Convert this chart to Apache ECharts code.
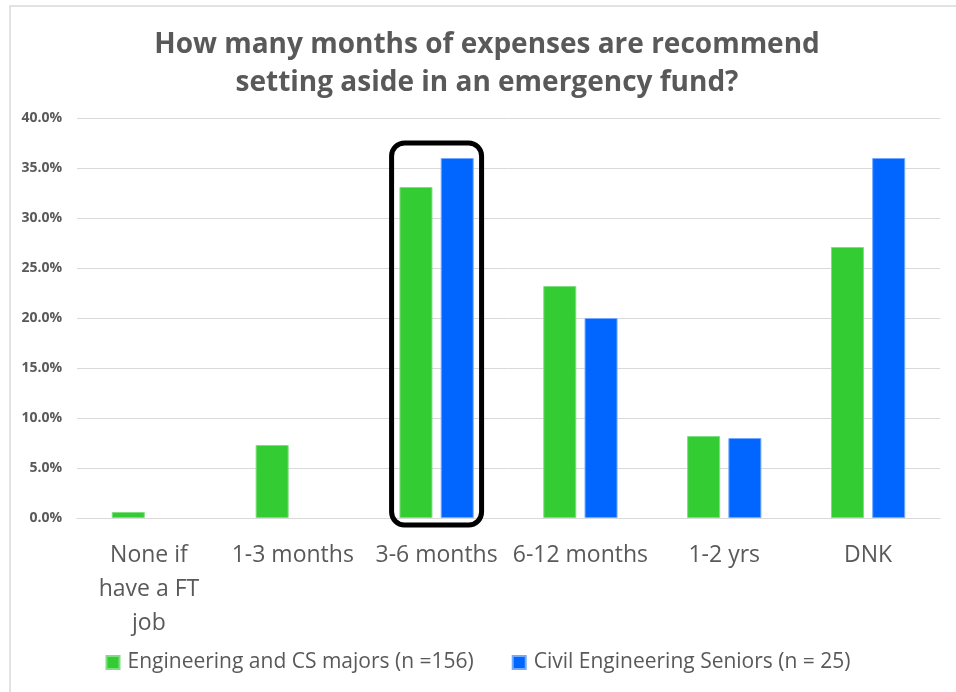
<!DOCTYPE html>
<html>
<head>
<meta charset="utf-8">
<script src="https://cdn.jsdelivr.net/npm/echarts@6/dist/echarts.min.js"></script>
<style>
  html, body { margin: 0; padding: 0; background: #fff; }
  #main { width: 956px; height: 692px; }
</style>
</head>
<body>
<div id="main"></div>
<script>
// 分类
const categories = ['None if\nhave a FT\njob', '1-3 months', '3-6 months', '6-12 months', '1-2 yrs', 'DNK']
// 两组数据 (%)
const engCsMajors = [0.6, 7.3, 33.1, 23.2, 8.2, 27.1]
const civilSeniors = [null, null, 36.0, 20.0, 8.0, 36.0]
const seriesNames = ['Engineering and CS majors (n =156)', 'Civil Engineering Seniors (n = 25)']
// 高亮的分类
const highlightCategory = '3-6 months'

const chart = echarts.init(document.getElementById('main'))
const option = {
  animation: false,
  title: {
    text: 'How many months of expenses are recommend\nsetting aside in an emergency fund?',
    left: 482,
    textAlign: 'center',
    top: 21,
    textStyle: {
      fontFamily: 'Open Sans',
      fontWeight: 'bold',
      fontSize: 28,
      lineHeight: 38,
      color: '#595959'
    }
  },
  legend: {
    bottom: 14,
    left: 'center',
    icon: 'rect',
    itemWidth: 13,
    itemHeight: 13,
    itemGap: 38,
    textStyle: { fontFamily: 'Open Sans', fontSize: 21, color: '#595959', padding: [0, 0, 0, 3] }
  },
  grid: { left: 77, right: 16, top: 118, bottom: 174 },
  xAxis: {
    type: 'category',
    data: categories,
    axisLine: { lineStyle: { color: '#d9d9d9' } },
    axisTick: { show: false },
    axisLabel: {
      interval: 0,
      margin: 20,
      fontFamily: 'Open Sans',
      fontSize: 23,
      lineHeight: 34,
      color: '#595959'
    }
  },
  yAxis: {
    type: 'value',
    min: 0,
    max: 40,
    interval: 5,
    axisLine: { show: false },
    axisTick: { show: false },
    splitLine: { lineStyle: { color: '#d9d9d9' } },
    axisLabel: {
      margin: 15,
      fontFamily: 'Open Sans',
      fontWeight: 'bold',
      fontSize: 14,
      color: '#595959',
      formatter: v => v.toFixed(1) + '%'
    }
  },
  series: [
    {
      name: seriesNames[0],
      type: 'bar',
      data: engCsMajors,
      barWidth: 33,
      barGap: '25%',
      itemStyle: { color: '#33cc33', borderColor: '#7fde7f', borderWidth: 1 }
    },
    {
      name: seriesNames[1],
      type: 'bar',
      data: civilSeniors,
      barWidth: 33,
      barGap: '25%',
      itemStyle: { color: '#0066ff', borderColor: '#73a9ff', borderWidth: 1 }
    }
  ]
}
chart.setOption(option)

// 高亮框 + 外边框
const idx = categories.indexOf(highlightCategory)
const topVal = Math.max(engCsMajors[idx] || 0, civilSeniors[idx] || 0)
const pTop = chart.convertToPixel({ gridIndex: 0 }, [idx, topVal])
const pBase = chart.convertToPixel({ gridIndex: 0 }, [idx, 0])
const halfW = 45
chart.setOption({
  graphic: [
    {
      type: 'rect',
      shape: { x: 10, y: 6, width: 950, height: 700 },
      style: { fill: 'none', stroke: '#d9d9d9', lineWidth: 1.5 },
      silent: true
    },
    {
      type: 'rect',
      shape: { x: pTop[0] - halfW, y: pTop[1] - 15, width: halfW * 2, height: pBase[1] - pTop[1] + 22, r: 13 },
      style: { fill: 'none', stroke: '#000', lineWidth: 5 },
      z: 10
    }
  ]
})
</script>
</body>
</html>
